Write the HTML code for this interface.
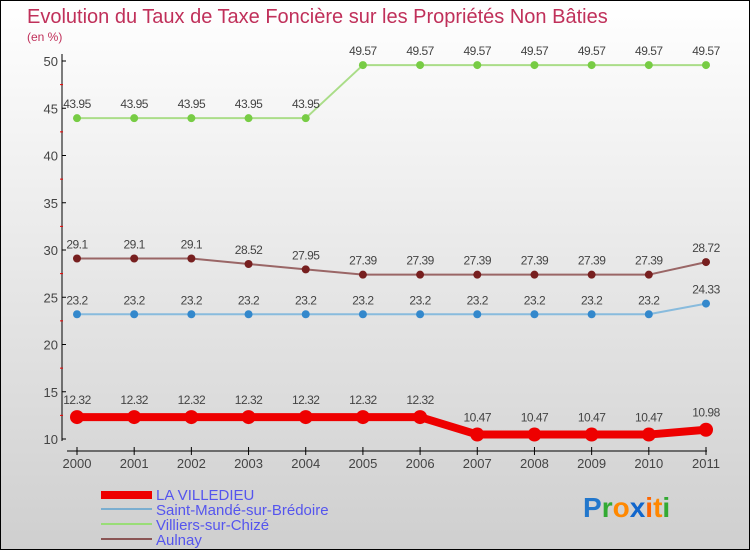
<!DOCTYPE html>
<html><head><meta charset="utf-8"><style>
body{margin:0}
#c{width:750px;height:550px;position:relative;box-sizing:border-box;border:1px solid #000;background:linear-gradient(#ffffff,#cfcfcf);font-family:"Liberation Sans",sans-serif;overflow:hidden}
</style></head><body>
<div id="c">
<svg id="s" width="750" height="550" style="position:absolute;left:0;top:0">
<text x="26" y="22" font-size="20" fill="#c0305a">Evolution du Taux de Taxe Foncière sur les Propriétés Non Bâties</text>
<text x="26" y="40" font-size="12" fill="#c0305a">(en %)</text>
<g id="axes"></g><g id="series"></g>
<g>
<rect x="100" y="490" width="51" height="8" fill="#e00"/>
<text x="155" y="499" font-size="15" fill="#5555ee">LA VILLEDIEU</text>
<rect x="100" y="507" width="51" height="2" fill="#7aaed0"/>
<text x="155" y="514" font-size="15" fill="#5555ee">Saint-Mandé-sur-Brédoire</text>
<rect x="100" y="522" width="51" height="2" fill="#99dd77"/>
<text x="155" y="529" font-size="15" fill="#5555ee">Villiers-sur-Chizé</text>
<rect x="100" y="537" width="51" height="2" fill="#8a5555"/>
<text x="155" y="544" font-size="15" fill="#5555ee">Aulnay</text>
</g>
<text x="582" y="516" font-size="28" font-weight="bold"><tspan fill="#2277cc">P</tspan><tspan fill="#33aa33">r</tspan><tspan fill="#ff8800">o</tspan><tspan fill="#1166cc">x</tspan><tspan fill="#ff6600">i</tspan><tspan fill="#ff8800">t</tspan><tspan fill="#33aa33">i</tspan></text>
</svg>
</div>
<script>
const years=[2000,2001,2002,2003,2004,2005,2006,2007,2008,2009,2010,2011];
const yTicks=[10,15,20,25,30,35,40,45,50];
const villedieu=[12.32,12.32,12.32,12.32,12.32,12.32,12.32,10.47,10.47,10.47,10.47,10.98];
const saintMande=[23.2,23.2,23.2,23.2,23.2,23.2,23.2,23.2,23.2,23.2,23.2,24.33];
const villiers=[43.95,43.95,43.95,43.95,43.95,49.57,49.57,49.57,49.57,49.57,49.57,49.57];
const aulnay=[29.1,29.1,29.1,28.52,27.95,27.39,27.39,27.39,27.39,27.39,27.39,28.72];
const NS="http://www.w3.org/2000/svg";
function xs(i){return 76+i*(705-76)/(years.length-1);}
function ys(v){return 438-(v-10)*(438-60)/40;}
function mk(t,a,p){const e=document.createElementNS(NS,t);for(const k in a)e.setAttribute(k,a[k]);p.appendChild(e);return e;}
const ax=document.getElementById('axes');
const yl=mk('line',{x1:61,y1:53,x2:61,y2:440,stroke:'#000','stroke-width':1},ax);


yTicks.forEach((v,i)=>{
 const y=ys(v);
 mk('line',{x1:61,y1:y,x2:65,y2:y,stroke:'#000'},ax);
 const t=mk('text',{x:57,y:y+5,'font-size':13,fill:'#444','text-anchor':'end'},ax);t.textContent=v;
 
 
 if(i<yTicks.length-1){const ym=ys(v+2.5);mk('line',{x1:59,y1:ym,x2:62,y2:ym,stroke:'#e00'},ax);}
});
const xl=mk('line',{x1:66,y1:450,x2:706,y2:450,stroke:'#000'},ax);


years.forEach((yr,i)=>{
 const x=xs(i);
 mk('line',{x1:x,y1:446,x2:x,y2:454,stroke:'#000'},ax);
 const t=mk('text',{x:x,y:467,'font-size':13,fill:'#444','text-anchor':'middle'},ax);t.textContent=yr;
 
 
});
const sg=document.getElementById('series');
function draw(vals,color,lw,r,name,dark){
 const g=mk('g',{},sg);
 
 
 const pts=vals.map((v,i)=>xs(i)+','+ys(v)).join(' ');
 mk('polyline',{points:pts,fill:'none',stroke:color,'stroke-width':lw},g);
 vals.forEach((v,i)=>{
  const c=mk('circle',{cx:xs(i),cy:ys(v),r:r,fill:dark},g);
  
  
  const t=mk('text',{x:xs(i),y:ys(v)-(r+6),'font-size':12,fill:'#444','text-anchor':'middle','letter-spacing':'-0.5'},g);
  t.textContent=String(v);
  
  
 });
}
draw(villiers,'#aadd88',2,4,'villiers','#77cc44');
draw(aulnay,'#9a6666',2,4,'aulnay','#771f1f');
draw(saintMande,'#88bbdd',2,4,'saint-mande','#3388cc');
draw(villedieu,'#ee0000',8,7,'la-villedieu','#ee0000');
</script>
</body></html>
